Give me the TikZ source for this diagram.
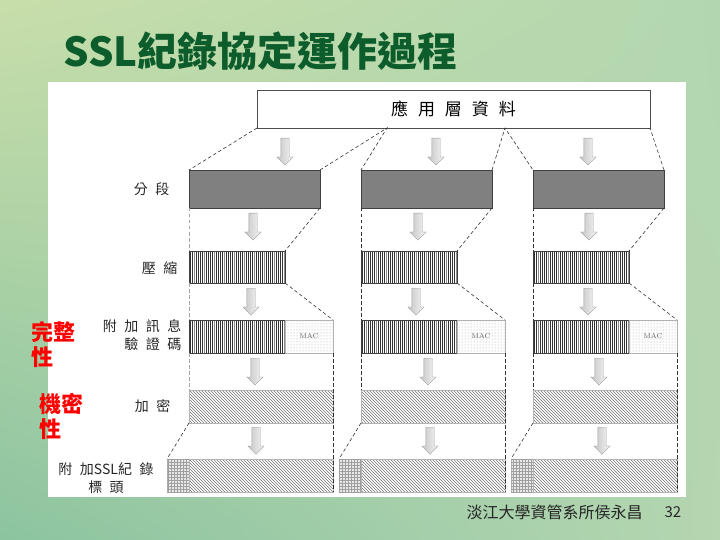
\documentclass[tikz,border=0pt]{standalone}
\usepackage{fontspec}
\newfontfamily\cjk{Noto Sans CJK TC}
\usepackage{xcolor}
\usepackage{tikz}
\usetikzlibrary{positioning, shapes.arrows, patterns, shadings}
\definecolor{titlegreen}{RGB}{12,92,44}
\definecolor{bgA}{RGB}{200,222,170}
\definecolor{bgB}{RGB}{178,215,176}
\definecolor{bgC}{RGB}{140,196,160}
\definecolor{bgD}{RGB}{180,214,176}
\definecolor{segfill}{RGB}{128,128,128}
\newcommand\wsp[1]{\spaceskip=#1\relax}

\tikzset{
  blk/.style={inner sep=0pt, outer sep=0pt, anchor=north west},
  segblk/.style={blk, draw=black!75, fill=segfill, minimum width=131pt, minimum height=38pt},
  zipblk/.style={blk, draw=black!75, fill=white, minimum width=96pt, minimum height=#1,
    path picture={
      \foreach \k in {0,...,47} {
        \pgfmathsetmacro\lw{0.35+0.1*mod(\k*3,7)}
        \pgfmathtruncatemacro\sh{ifthenelse(mod(\k,5)==2,45,80)}
        \draw[black!\sh, line width=\lw pt]
          ([xshift=\k*2pt+1pt]path picture bounding box.north west) --
          ([xshift=\k*2pt+1pt]path picture bounding box.south west);
      }}},
  macblk/.style={blk, draw=gray!60, pattern=dots, pattern color=gray!70,
    minimum width=48pt, minimum height=33pt, text=black!65,
    font=\rmfamily\fontsize{7}{8}\selectfont},
  encblk/.style={blk, draw=gray!60, pattern=north west lines, pattern color=black!55,
    minimum width=144pt, minimum height=33pt},
  hdrblk/.style={blk, draw=gray!60, fill=gray!18, postaction={pattern=grid, pattern color=gray!75},
    minimum width=22pt, minimum height=33pt},
  dnarrow/.style={single arrow, shape border rotate=270, anchor=tail, inner sep=4pt,
    minimum height=27pt, minimum width=16pt, single arrow head extend=4pt,
    draw=gray!75, left color=gray!45, right color=gray!8},
  link/.style={dash pattern=on 3.5pt off 2.5pt, line width=0.6pt, draw=black!80},
  lbl/.style={font=\cjk\fontsize{14}{18}\selectfont, text=black!85,
    execute at begin node={\wsp{7.5pt}}},
  redlbl/.style={font=\cjk\bfseries\fontsize{22}{25}\selectfont, text=red, align=left, anchor=north west},
}

\begin{document}
\begin{tikzpicture}[x=1pt, y=-1pt]
    % 背景
    \useasboundingbox (0,0) rectangle (720,540);
    \shade[upper left=bgA, upper right=bgB, lower left=bgC, lower right=bgD] (0,0) rectangle (720,540);
    \fill[white] (48,82) rectangle (686,497);

    % 标题
    \node[anchor=west, font=\cjk\bfseries\fontsize{40}{44}\selectfont, text=titlegreen] (title) at (60,51) {SSL紀錄協定運作過程};

    % 应用层数据
    \node[blk, draw=black!70, fill=white, minimum width=393pt, minimum height=38pt,
      font=\cjk\fontsize{17}{20}\selectfont, execute at begin node={\wsp{10pt}}] (app) at (257,90) {應 用 層 資 料};

    % 各段方框
    \foreach \i/\bx in {1/189, 2/361, 3/533} {
        \node[segblk] (seg\i) at (\bx,170) {};
        \node[zipblk=32pt] (zip\i) at (\bx,251) {};
        \node[zipblk=33pt] (dat\i) at (\bx,320) {};
        \node[macblk] (mac\i) at (\bx+96,320) {MAC};
        \node[encblk] (enc\i) at (\bx,390) {};
        \node[hdrblk] (hdr\i) at (\bx-22,459) {};
        \node[encblk] (encd\i) at (\bx,459) {};
    }

    % 箭头
    \foreach \n/\ax/\ay in {a1/285/138, a2/436/138, a3/588/138,
                            b1/253/213, b2/418/213, b3/589/213,
                            c1/251/288, c2/416/288, c3/588/288,
                            d1/255/358, d2/428/358, d3/599/358,
                            e1/256/427, e2/430/427, e3/602/427} {
        \node[dnarrow] (\n) at (\ax,\ay) {};
    }

    % 虚线
    \coordinate (cut1) at (387,128);
    \coordinate (cut2) at (505,128);
    \draw[link] (app.south west) -- (seg1.north west);
    \draw[link] (seg1.north east) -- (cut1) -- (seg2.north west);
    \draw[link] (seg2.north east) -- (cut2) -- (seg3.north west);
    \draw[link] (seg3.north east) -- (app.south east);
    \foreach \i/\lc in {1/gray!70, 2/black!80, 3/black!80} {
        \draw[link, draw=\lc] (seg\i.south west) -- (zip\i.north west);
        \draw[link, draw=\lc] (zip\i.south west) -- (dat\i.north west);
        \draw[link, draw=\lc] (dat\i.south west) -- (enc\i.north west);
        \draw[link] (seg\i.south east) -- (zip\i.north east);
        \draw[link] (zip\i.south east) -- (mac\i.north east);
        \draw[link] (mac\i.south east) -- (encd\i.south east);
        \draw[link] (enc\i.south west) -- (hdr\i.north west);
    }

    % 左侧标签
    \node[lbl, anchor=east] (lseg) at (173,189) {分 段};
    \node[lbl, anchor=east] (lzip) at (181,268) {壓 縮};
    \node[lbl, anchor=east, align=right] (lmac) at (185,335) {附 加 訊 息\\驗 證 碼};
    \node[lbl, anchor=east] (lenc) at (174,406) {加 密};
    \node[lbl, align=center] (lhdr) at (106,478) {附 加SSL紀 錄\\標 頭};

    % 红字
    \node[redlbl] (integ) at (28,318) {完整\\性};
    \node[redlbl] (secr) at (36,390) {機密\\性};

    % 页脚
    \node[anchor=west, font=\cjk\fontsize{16}{18}\selectfont, text=black!85] (foot) at (463,512) {淡江大學資管系所侯永昌};
    \node[anchor=west, font=\cjk\fontsize{15}{18}\selectfont, text=black!85] (pgno) at (661,512) {32};
\end{tikzpicture}
\end{document}
